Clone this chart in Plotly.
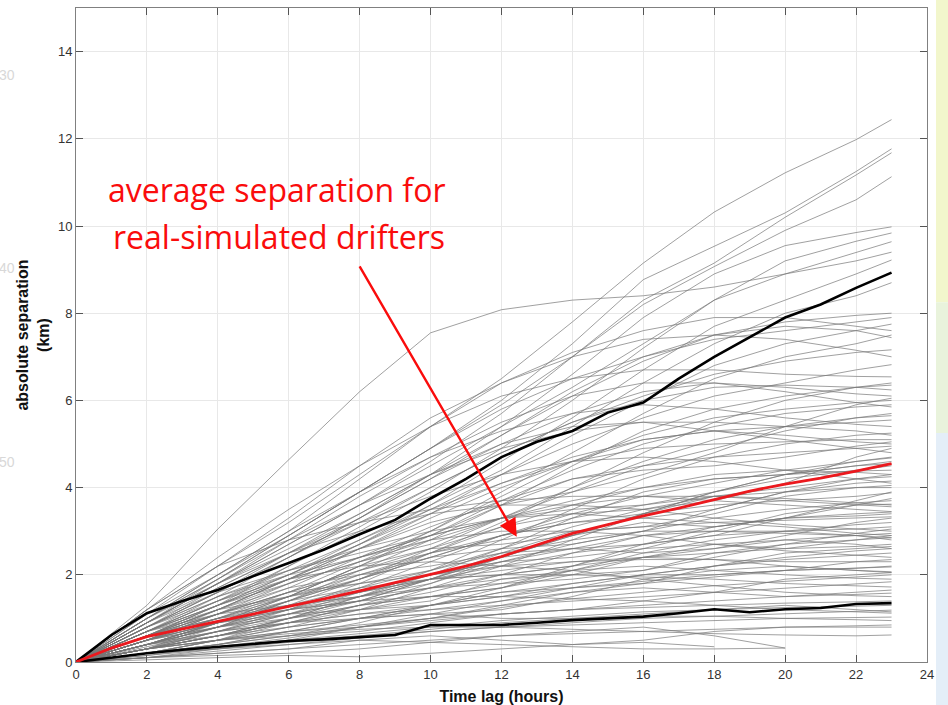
import plotly.graph_objects as go

# ---------------- data ----------------
HOURS = list(range(24))
X_GREY = [0, 2, 4, 6, 8, 10, 12, 14, 16, 18, 20, 22, 23]

upper_black = [0, 0.62, 1.12, 1.4, 1.65, 1.97, 2.27, 2.58, 2.93, 3.26, 3.75, 4.2,
               4.7, 5.05, 5.3, 5.72, 5.95, 6.5, 7.0, 7.45, 7.9, 8.2, 8.58, 8.93]
mean_red = [0, 0.32, 0.58, 0.76, 0.93, 1.1, 1.27, 1.45, 1.63, 1.82, 2.0, 2.2,
            2.42, 2.68, 2.95, 3.15, 3.35, 3.53, 3.72, 3.92, 4.08, 4.22, 4.38, 4.55]
lower_black = [0, 0.1, 0.2, 0.28, 0.35, 0.42, 0.48, 0.52, 0.57, 0.62, 0.85, 0.85,
               0.85, 0.9, 0.96, 1.0, 1.04, 1.12, 1.21, 1.14, 1.21, 1.24, 1.33, 1.35]

N = None
grey_lines = [
    [0, 1.2, 2.2, 3.2, 4.3, 5.4, 6.5, 7.8, 9.15, 10.32, 11.22, 11.98, 12.44],
    [0, 1.0, 1.9, 2.9, 3.9, 4.9, 6.0, 7.3, 8.77, 9.53, 10.3, 11.25, 11.77],
    [0, 0.9, 1.8, 2.7, 3.6, 4.6, 5.7, 7.0, 8.3, 9.15, 10.2, 11.17, 11.68],
    [0, 1.1, 2.0, 2.9, 3.9, 4.9, 5.9, 7.0, 8.2, 9.07, 9.9, 10.6, 11.13],
    [0, 1.3, 3.05, 4.64, 6.2, 7.55, 8.08, 8.3, 8.4, 8.6, 8.9, 9.2, 9.4],
    [0, 0.8, 1.6, 2.4, 3.3, 4.3, 5.4, 6.6, 7.9, 8.9, 9.55, 9.85, 9.98],
    [0, 0.7, 1.4, 2.2, 3.0, 3.9, 4.9, 6.0, 7.2, 8.3, 9.2, 9.65, 9.84],
    [0, 0.9, 1.8, 2.7, 3.6, 4.5, 5.4, 6.3, 7.3, 8.3, 8.9, 9.4, 9.64],
    [0, 0.6, 1.2, 1.9, 2.7, 3.6, 4.6, 5.6, 6.7, 7.7, 8.3, 8.9, 9.22],
    [0, 0.7, 1.3, 2.0, 2.8, 3.6, 4.4, 5.4, 6.4, 7.3, 8.0, 8.4, 8.7],
    [0, 0.9, 1.9, 2.9, 3.9, 4.9, 5.8, 6.5, 7.0, 7.4, 7.6, 7.8, 7.9],
    [0, 0.5, 1.1, 1.8, 2.6, 3.4, 4.3, 5.2, 6.0, 6.8, 7.3, 7.6, 7.75],
    [0, 1.0, 2.0, 3.0, 4.2, 5.4, 6.4, 7.1, 7.6, 7.9, 7.9, 7.7, 7.6],
    [0, 0.4, 0.9, 1.5, 2.2, 3.0, 3.9, 4.8, 5.7, 6.5, 7.0, 7.3, 7.5],
    [0, 0.8, 1.7, 2.5, 3.3, 4.2, 5.2, 6.2, 7.0, 7.5, 7.7, 7.6, 7.44],
    [0, 0.6, 1.3, 2.2, 3.1, 4.0, 4.8, 5.5, 6.1, 6.6, 6.9, 7.1, 7.16],
    [0, 0.7, 1.4, 2.0, 2.7, 3.5, 4.3, 5.0, 5.6, 6.1, 6.4, 6.7, 6.82],
    [0, 1.2, 2.4, 3.5, 4.5, 5.4, 6.1, 6.5, 6.7, 6.7, 6.6, 6.55, 6.54],
    [0, 0.3, 0.7, 1.2, 1.8, 2.5, 3.2, 4.0, 4.8, 5.5, 6.0, 6.3, 6.4],
    [0, 0.8, 1.6, 2.4, 3.2, 4.0, 4.8, 5.5, 6.0, 6.3, 6.35, 6.3, 6.24],
    [0, 0.5, 1.0, 1.6, 2.3, 3.0, 3.8, 4.6, 5.2, 5.6, 5.8, 5.95, 6.0],
    [0, 0.9, 1.8, 2.8, 3.8, 4.7, 5.5, 6.1, 6.4, 6.4, 6.2, 5.95, 5.85],
    [0, 0.4, 0.8, 1.3, 1.9, 2.6, 3.3, 4.0, 4.6, 5.1, 5.4, 5.6, 5.7],
    [0, 0.6, 1.3, 2.0, 2.7, 3.4, 4.1, 4.7, 5.1, 5.3, 5.4, 5.5, 5.55],
    [0, 1.0, 2.0, 3.0, 3.9, 4.7, 5.3, 5.7, 5.9, 5.8, 5.6, 5.45, 5.4],
    [0, 0.3, 0.6, 1.0, 1.5, 2.1, 2.8, 3.5, 4.2, 4.7, 5.0, 5.2, 5.25],
    [0, 0.7, 1.4, 2.1, 2.8, 3.5, 4.1, 4.6, 4.9, 5.0, 5.05, 5.1, 5.1],
    [0, 0.5, 1.1, 1.7, 2.4, 3.1, 3.7, 4.2, 4.5, 4.7, 4.8, 4.9, 4.95],
    [0, 0.8, 1.6, 2.5, 3.4, 4.3, 5.0, 5.4, 5.5, 5.3, 5.1, 4.9, 4.8],
    [0, 0.4, 0.9, 1.4, 1.9, 2.4, 2.9, 3.4, 3.8, 4.1, 4.4, 4.6, 4.68],
    [0, 0.6, 1.2, 1.8, 2.3, 2.8, 3.3, 3.7, 4.0, 4.2, 4.3, 4.38, 4.4],
    [0, 0.3, 0.6, 1.0, 1.4, 1.9, 2.4, 2.9, 3.4, 3.8, 4.0, 4.2, 4.25],
    [0, 0.9, 1.7, 2.5, 3.2, 3.8, 4.3, 4.6, 4.7, 4.6, 4.4, 4.2, 4.1],
    [0, 0.5, 1.0, 1.5, 2.0, 2.5, 2.9, 3.2, 3.4, 3.6, 3.7, 3.8, 3.88],
    [0, 0.2, 0.5, 0.9, 1.3, 1.8, 2.3, 2.7, 3.0, 3.3, 3.5, 3.65, 3.7],
    [0, 0.7, 1.3, 1.9, 2.4, 2.9, 3.3, 3.6, 3.8, 3.8, 3.7, 3.6, 3.56],
    [0, 0.4, 0.8, 1.2, 1.6, 2.0, 2.3, 2.6, 2.9, 3.1, 3.3, 3.4, 3.44],
    [0, 0.6, 1.1, 1.6, 2.1, 2.5, 2.8, 3.0, 3.1, 3.2, 3.25, 3.3, 3.33],
    [0, 0.3, 0.7, 1.1, 1.5, 1.9, 2.2, 2.5, 2.7, 2.9, 3.0, 3.05, 3.1],
    [0, 0.8, 1.5, 2.1, 2.6, 3.0, 3.3, 3.4, 3.3, 3.2, 3.1, 2.95, 2.9],
    [0, 0.4, 0.8, 1.1, 1.4, 1.7, 2.0, 2.2, 2.4, 2.5, 2.6, 2.65, 2.7],
    [0, 0.2, 0.4, 0.7, 1.0, 1.3, 1.6, 1.8, 2.0, 2.2, 2.35, 2.45, 2.5],
    [0, 0.6, 1.1, 1.5, 1.8, 2.0, 2.2, 2.3, 2.35, 2.35, 2.3, 2.3, 2.3],
    [0, 0.3, 0.6, 0.9, 1.1, 1.3, 1.5, 1.7, 1.85, 2.0, 2.1, 2.15, 2.18],
    [0, 0.5, 0.9, 1.3, 1.6, 1.9, 2.1, 2.3, 2.4, 2.35, 2.2, 2.1, 2.07],
    [0, 0.15, 0.35, 0.55, 0.8, 1.0, 1.25, 1.45, 1.6, 1.75, 1.85, 1.95, 2.0],
    [0, 0.4, 0.7, 0.9, 1.1, 1.2, 1.3, 1.4, 1.5, 1.6, 1.7, 1.8, 1.84],
    [0, 0.6, 1.0, 1.4, 1.7, 1.9, 2.0, 2.0, 1.95, 1.9, 1.8, 1.75, 1.72],
    [0, 0.2, 0.4, 0.6, 0.8, 0.95, 1.1, 1.2, 1.3, 1.4, 1.5, 1.55, 1.58],
    [0, 0.3, 0.5, 0.7, 0.85, 1.0, 1.1, 1.2, 1.25, 1.3, 1.35, 1.38, 1.4],
    [0, 0.1, 0.25, 0.4, 0.55, 0.7, 0.8, 0.9, 1.0, 1.05, 1.1, 1.15, 1.19],
    [0, 0.5, 0.9, 1.2, 1.4, 1.5, 1.5, 1.45, 1.4, 1.3, 1.2, 1.15, 1.12],
    [0, 0.2, 0.35, 0.5, 0.6, 0.7, 0.8, 0.85, 0.9, 0.95, 1.0, 1.02, 1.03],
    [0, 0.1, 0.2, 0.3, 0.4, 0.5, 0.6, 0.65, 0.7, 0.75, 0.8, 0.83, 0.85],
    [0, 0.3, 0.5, 0.65, 0.75, 0.8, 0.8, 0.75, 0.7, 0.65, 0.62, 0.6, 0.62],
    [0, 0.05, 0.1, 0.15, 0.12, 0.2, 0.3, 0.4, 0.45, 0.35, N, N, N],
    [0, 0.1, 0.15, 0.2, 0.3, 0.45, 0.6, 0.7, 0.8, 0.6, 0.32, N, N],
    [0, 1.0, 1.8, 2.5, 3.0, 3.4, 3.6, 3.6, 3.5, 3.3, 3.15, 3.05, 3.0],
    [0, 0.2, 0.5, 0.8, 1.2, 1.7, 2.2, 2.8, 3.4, 3.9, 4.2, 4.4, 4.5],
    [0, 0.6, 1.2, 1.9, 2.6, 3.3, 4.0, 4.6, 5.1, 5.3, 5.2, 5.05, 5.0],
    [0, 0.4, 0.9, 1.4, 1.9, 2.4, 2.9, 3.3, 3.6, 3.8, 3.75, 3.65, 3.6],
    [0, 0.7, 1.3, 1.9, 2.4, 2.8, 3.0, 3.0, 2.9, 2.7, 2.55, 2.45, 2.4],
    [0, 0.3, 0.6, 1.0, 1.5, 2.0, 2.6, 3.1, 3.5, 3.8, 3.9, 4.0, 4.0],
    [0, 0.4, 0.9, 1.5, 2.2, 2.9, 3.7, 4.4, 5.0, 5.4, 5.7, 5.85, 5.9],
    [0, 0.7, 1.5, 2.4, 3.3, 4.2, 5.0, 5.7, 6.2, 6.4, 6.3, 6.15, 6.1],
    [0, 0.3, 0.5, 0.8, 1.0, 1.2, 1.4, 1.6, 1.8, 1.95, 2.1, 2.15, 2.2],
    [0, 0.4, 0.8, 1.1, 1.4, 1.7, 1.9, 2.1, 2.2, 2.1, 2.0, 1.92, 1.9],
    [0, 0.2, 0.4, 0.7, 1.0, 1.3, 1.7, 2.1, 2.5, 2.8, 3.0, 3.15, 3.2],
    [0, 0.5, 0.9, 1.3, 1.7, 2.1, 2.5, 2.8, 3.0, 3.0, 2.95, 2.9, 2.85],
    [0, 0.6, 1.1, 1.6, 2.1, 2.6, 3.1, 3.6, 4.0, 4.3, 4.4, 4.35, 4.3],
    [0, 0.2, 0.35, 0.5, 0.65, 0.8, 0.95, 1.05, 1.15, 1.2, 1.25, 1.28, 1.3],
    [0, 0.15, 0.3, 0.45, 0.6, 0.75, 0.9, 1.0, 1.05, 1.05, 1.0, 0.97, 0.95],
    [0, 1.1, 2.2, 3.3, 4.5, 5.6, 6.4, 7.0, 7.4, 7.5, 7.4, 7.15, 7.0],
    [0, 0.9, 1.8, 2.6, 3.4, 4.3, 5.2, 6.1, 6.9, 7.5, 7.8, 7.95, 8.0],
    [0, 0.1, 0.3, 0.5, 0.8, 1.1, 1.4, 1.7, 2.0, 2.2, 2.4, 2.55, 2.6],
    [0, 0.8, 1.4, 1.9, 2.2, 2.3, 2.2, 2.1, 1.9, 1.75, 1.6, 1.52, 1.5],
    [0, 1.2, 2.2, 2.8, 3.2, 3.5, 3.7, 3.8, 3.8, 3.7, 3.6, 3.5, 3.45],
    [0, 0.2, 0.3, 0.4, 0.5, 0.45, 0.4, 0.35, 0.3, 0.3, 0.32, N, N],
    [0, 0.3, 0.6, 0.9, 1.2, 1.5, 1.8, 2.1, 2.4, 2.6, 2.8, 2.9, 2.95],
    [0, 1.0, 1.9, 2.8, 3.6, 4.3, 4.9, 5.3, 5.5, 5.5, 5.4, 5.3, 5.2],
    [0, 0.5, 0.8, 1.2, 1.7, 2.3, 2.9, 3.2, 3.3, 3.5, 3.9, 4.2, 4.3],
    [0, 0.3, 0.9, 1.3, 1.5, 1.8, 2.4, 2.9, 3.2, 3.1, 3.3, 3.6, 3.75],
    [0, 0.6, 1.0, 1.5, 2.2, 2.6, 2.7, 2.9, 3.4, 3.9, 4.3, 4.5, 4.6],
    [0, 0.4, 0.6, 0.9, 1.3, 1.5, 1.7, 2.2, 2.6, 2.7, 2.6, 2.8, 2.85],
    [0, 0.7, 1.2, 1.5, 1.9, 2.5, 3.1, 3.4, 3.5, 3.7, 4.1, 4.7, 4.9],
    [0, 0.2, 0.5, 1.0, 1.2, 1.4, 1.9, 2.0, 2.1, 2.5, 2.7, 2.8, 2.9],
    [0, 0.5, 1.1, 1.6, 1.8, 2.1, 2.6, 3.3, 3.9, 4.2, 4.3, 4.5, 4.55],
    [0, 0.3, 0.7, 1.1, 1.6, 1.9, 2.0, 2.2, 2.7, 3.1, 3.3, 3.35, 3.4],
    [0, 0.6, 1.2, 1.7, 2.0, 2.2, 2.5, 2.6, 2.5, 2.6, 2.9, 3.2, 3.3],
    [0, 0.4, 0.9, 1.2, 1.4, 1.9, 2.5, 3.0, 3.1, 3.4, 3.8, 4.0, 4.05],
    [0, 0.5, 0.8, 1.0, 1.3, 1.6, 2.0, 2.5, 2.9, 3.0, 3.0, 2.9, 2.8],
    [0, 0.2, 0.4, 0.6, 0.9, 1.3, 1.6, 1.7, 1.8, 2.2, 2.5, 2.6, 2.65],
    [0, 0.7, 1.1, 1.3, 1.6, 2.0, 2.3, 2.4, 2.6, 3.0, 3.4, 3.6, 3.62],
    [0, 0.3, 0.6, 0.8, 1.0, 1.1, 1.2, 1.5, 1.9, 2.1, 2.2, 2.1, 2.05],
    [0, 0.5, 1.0, 1.3, 1.5, 1.7, 1.8, 1.9, 2.1, 2.4, 2.7, 2.95, 3.05],
    [0, 0.4, 0.8, 1.4, 2.0, 2.4, 2.6, 2.7, 3.0, 3.5, 3.9, 4.1, 4.15],
    [0, 0.6, 1.3, 1.8, 2.3, 2.7, 3.3, 3.9, 4.5, 4.9, 5.3, 5.6, 5.65],
    [0, 0.8, 1.5, 2.0, 2.4, 2.9, 3.6, 4.2, 4.4, 4.5, 4.7, 4.95, 5.05],
    [0, 0.3, 0.5, 0.7, 0.8, 1.0, 1.3, 1.6, 1.7, 1.6, 1.5, 1.6, 1.65],
    [0, 0.2, 0.5, 0.6, 0.7, 0.9, 1.1, 1.2, 1.4, 1.6, 1.9, 2.0, 2.05],
    [0, 0.5, 0.9, 1.1, 1.2, 1.3, 1.5, 1.8, 2.0, 2.0, 2.1, 2.3, 2.35],
    [0, 0.9, 1.6, 2.1, 2.5, 2.9, 3.3, 3.5, 3.6, 3.9, 4.3, 4.6, 4.7],
    [0, 0.4, 0.7, 0.9, 1.0, 1.1, 1.0, 1.0, 1.1, 1.2, 1.3, 1.2, 1.15],
    [0, 0.6, 1.0, 1.2, 1.5, 1.9, 2.4, 2.6, 2.7, 2.9, 3.3, 3.7, 3.9],
    [0, 0.35, 0.7, 1.0, 1.3, 1.5, 1.7, 2.0, 2.4, 2.7, 2.8, 2.7, 2.6],
    [0, 0.1, 0.2, 0.3, 0.5, 0.6, 0.5, 0.4, 0.5, 0.7, 0.8, 0.8, 0.8],
    [0, 0.5, 1.2, 1.9, 2.6, 3.2, 3.6, 3.9, 4.3, 4.8, 5.4, 5.9, 6.05],
    [0, 0.3, 0.8, 1.4, 2.1, 2.8, 3.6, 4.5, 5.3, 5.8, 6.1, 6.3, 6.35],
]

X_TICKS = list(range(0, 25, 2))
Y_TICKS = list(range(0, 15, 2))

ANNOT_LINE1 = "average separation for"
ANNOT_LINE2 = "real-simulated drifters"
X_TITLE = "Time lag (hours)"
Y_TITLE = "absolute separation<br>(km)"

# ---------------- figure ----------------
fig = go.Figure()

for ys in grey_lines:
    fig.add_trace(go.Scatter(x=X_GREY, y=ys, mode="lines",
                             line=dict(color="rgba(120,120,120,0.7)", width=1),
                             hoverinfo="skip", showlegend=False))

fig.add_trace(go.Scatter(x=HOURS, y=upper_black, mode="lines",
                         line=dict(color="black", width=2.6), showlegend=False))
fig.add_trace(go.Scatter(x=HOURS, y=lower_black, mode="lines",
                         line=dict(color="black", width=2.6), showlegend=False))
fig.add_trace(go.Scatter(x=HOURS, y=mean_red, mode="lines",
                         line=dict(color="rgb(235,25,30)", width=2.8), showlegend=False))

axis_common = dict(
    showgrid=True, gridcolor="#e8e8e8", gridwidth=1, automargin=False,
    zeroline=False, showline=True, linecolor="#808080", linewidth=1,
    mirror="ticks", ticks="inside", ticklen=7, tickcolor="#555555",
    tickfont=dict(family="Liberation Sans, Arial, sans-serif", size=13, color="#333333"),
)

fig.update_xaxes(range=[0, 24], tickvals=X_TICKS, **axis_common,
                 title=dict(text="<b>%s</b>" % X_TITLE, standoff=10,
                            font=dict(family="Liberation Sans, Arial, sans-serif",
                                      size=16, color="#111111")))
fig.update_yaxes(range=[0, 15], tickvals=Y_TICKS, **axis_common,
                 title=dict(text="<b>%s</b>" % Y_TITLE, standoff=4,
                            font=dict(family="Liberation Sans, Arial, sans-serif",
                                      size=16, color="#111111")))

red = "rgb(250,12,12)"
fig.add_annotation(text=ANNOT_LINE1, xref="paper", yref="paper", x=0.236, y=0.722,
                   showarrow=False, xanchor="center", yanchor="middle",
                   font=dict(family="Open Sans, Noto Sans, sans-serif", size=32, color=red))
fig.add_annotation(text=ANNOT_LINE2, xref="paper", yref="paper", x=0.239, y=0.651,
                   showarrow=False, xanchor="center", yanchor="middle",
                   font=dict(family="Open Sans, Noto Sans, sans-serif", size=32, color=red))
# arrow pointing to the red mean curve
fig.add_annotation(text="", x=12.43, y=2.87, xref="x", yref="y",
                   ax=-158, ay=-272, axref="pixel", ayref="pixel",
                   showarrow=True, arrowhead=2, arrowsize=1.5, arrowwidth=2.4,
                   arrowcolor=red)

# faint slide-background remnants
for txt, ypx in [("30", 75), ("40", 268), ("50", 462)]:
    fig.add_annotation(text=txt, xref="paper", yref="paper",
                       x=(-3 - 76) / 851, y=(662 - ypx) / 654, showarrow=False,
                       xanchor="left", yanchor="middle",
                       font=dict(family="Liberation Sans, Arial", size=14, color="#d8d8d8"))
for y0, y1, col in [(0.55, 1.02, "#f2f6cc"), (0.35, 0.55, "#e9f3dc"), (-0.07, 0.35, "#e4eef8")]:
    fig.add_shape(type="rect", xref="paper", yref="paper", x0=(936 - 76) / 851,
                  x1=(950 - 76) / 851, y0=y0, y1=y1, fillcolor=col, line=dict(width=0),
                  layer="below")

fig.update_layout(
    width=948, height=705,
    margin=dict(l=76, r=21, t=8, b=43),
    paper_bgcolor="white", plot_bgcolor="white",
    showlegend=False,
)

fig.write_html("out.html")
